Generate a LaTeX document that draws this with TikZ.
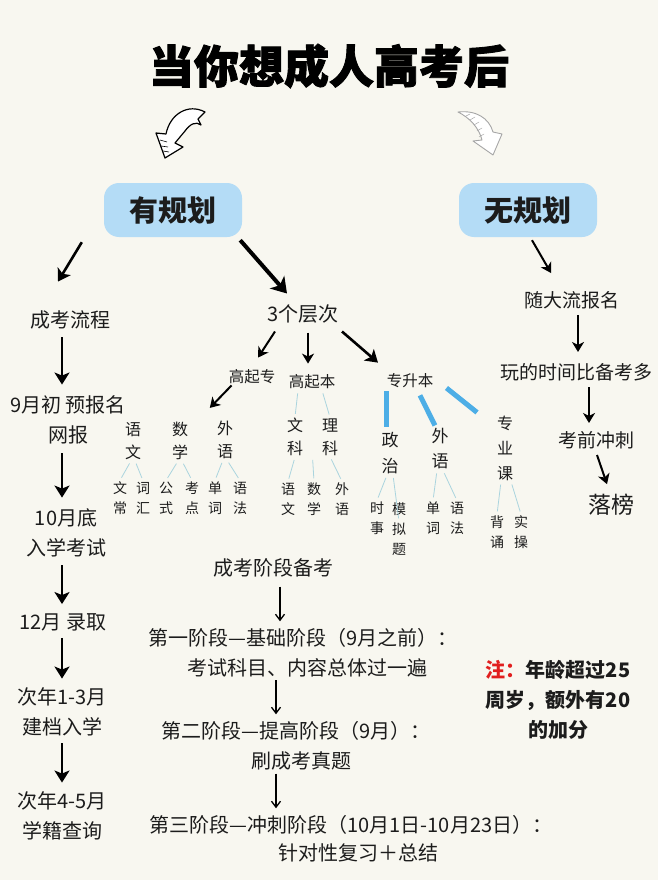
\documentclass[tikz,border=0pt]{standalone}
\usepackage{fontspec}
\setmainfont{Noto Sans CJK SC}
\newfontfamily\titlefont[BoldFeatures={FakeBold=2}]{Noto Sans CJK SC}
\usetikzlibrary{arrows.meta,calc}
\definecolor{bg}{RGB}{248,247,240}
\definecolor{ink}{RGB}{28,28,28}
\definecolor{boxblue}{RGB}{180,220,246}
\definecolor{leafline}{RGB}{170,212,222}
\definecolor{thick}{RGB}{77,174,230}
\definecolor{notered}{RGB}{225,30,30}
\begin{document}
\begin{tikzpicture}[x=1pt,y=-1pt,
  txt/.style={inner sep=1pt,text=ink,align=center,font=\fontsize{20}{30}\selectfont},
  rtxt/.style={inner sep=1pt,text=ink,align=center,font=\fontsize{19}{30}\selectfont},
  small/.style={inner sep=1pt,text=ink,align=center,font=\fontsize{15.5}{20}\selectfont},
  mid/.style={inner sep=1pt,text=ink,align=center,font=\fontsize{16}{23}\selectfont},
  leaf/.style={inner sep=1pt,text=ink,align=center,font=\fontsize{14}{20}\selectfont},
  planbox/.style={fill=boxblue,rounded corners=15pt,minimum width=138pt,minimum height=54pt,text=ink,font=\bfseries\fontsize{29}{30}\selectfont},
  bigarr/.style={draw=black,line width=2.6pt,-{Stealth[length=12pt,width=15pt,inset=3pt]}},
  hugearr/.style={draw=black,line width=4pt,-{Stealth[length=15pt,width=19pt,inset=4pt]}},
  medarr/.style={draw=black,line width=2pt,-{Stealth[length=10pt,width=12pt,inset=3pt]}},
  thinarr/.style={draw=black,line width=1.3pt,-{Straight Barb[length=6pt,width=9pt]}},
  leafln/.style={draw=leafline,line width=0.8pt,shorten >=3pt,shorten <=3pt},
  blueln/.style={draw=thick,line width=5pt},
]
\useasboundingbox (0,0) rectangle (658,880);
\fill[bg] (0,0) rectangle (658,880);

% title
\node[inner sep=0pt,text=black,font=\titlefont\bfseries\fontsize{45}{50}\selectfont] (title) at (329,66) {当你想成人高考后};

% curly arrows
\draw[black,line width=1.2pt,fill=white,line join=round]
  (205,112) .. controls (188,103) and (170,114) .. (166,134) -- (156,133) -- (165,158) -- (183,147)
  -- (175,143) -- (185,131) .. controls (190,124) and (196,121) .. (201,125) -- (198,119) -- cycle;
\draw[black,line width=0.6pt] (160,140) -- (167,142) (161,146) -- (168,147) (163,151) -- (169,152);
\draw[gray!70,line width=0.9pt,fill=white,line join=round]
  (458,112) .. controls (476,110) and (489,118) .. (493,132) -- (502,134) -- (493,155) -- (473,141)
  -- (482,140) .. controls (479,128) and (470,118) .. (458,112) -- cycle;
\draw[gray!70,line width=0.5pt] (466,116) -- (470,114) (470,120) -- (475,117) (474,125) -- (479,122) (477,131) -- (482,128) (479,137) -- (484,134);

% plan boxes
\node[planbox] (yes) at (173,210) {有规划};
\node[planbox] (no) at (528,210) {无规划};

% left column
\node[txt] (l1) at (70,320) {成考流程};
\node[txt] (l2) at (68,420) {9月初 预报名\\网报};
\node[txt] (l3) at (66,533) {10月底\\入学考试};
\node[txt] (l4) at (63,622) {12月 录取};
\node[txt] (l5) at (62,712) {次年1-3月\\建档入学};
\node[txt] (l6) at (62,816) {次年4-5月\\学籍查询};

\draw[bigarr] ([xshift=-22pt,yshift=-5pt]yes.south west) -- ([xshift=-12pt,yshift=28pt]l1.north);
\draw[bigarr] ([xshift=-8pt,yshift=-7pt]l1.south) -- ([xshift=-6pt,yshift=10pt]l2.north);
\draw[bigarr] ([xshift=-6pt,yshift=-8pt]l2.south) -- ([xshift=-4pt,yshift=10pt]l3.north);
\draw[bigarr] ([xshift=-4pt,yshift=-7pt]l3.south) -- ([xshift=-1pt,yshift=8pt]l4.north);
\draw[bigarr] ([xshift=-1pt,yshift=-6pt]l4.south) -- ([yshift=8pt]l5.north);
\draw[bigarr] ([yshift=-6pt]l5.south) -- ([yshift=8pt]l6.north);

% middle tree
\node[txt] (lv) at (303,314) {3个层次};
\draw[hugearr] ([xshift=-2pt,yshift=-3pt]yes.south east) -- ([xshift=-16pt,yshift=10pt]lv.north);

\node[small] (gqz) at (252,377) {高起专};
\node[small] (gqb) at (312,382) {高起本};
\node[small] (zsb) at (410,381) {专升本};
\draw[medarr] ([xshift=-28pt,yshift=-7pt]lv.south) -- ([xshift=6pt,yshift=11pt]gqz.north);
\draw[medarr] ([xshift=5pt,yshift=-8pt]lv.south) -- ([xshift=-4pt,yshift=10pt]gqb.north);
\draw[bigarr] ([xshift=39pt,yshift=-7pt]lv.south) -- ([xshift=-32pt,yshift=10pt]zsb.north);

% gaoqizhuan children
\node[mid] (v1) at (133,441) {语\\文};
\node[mid] (v2) at (180,441) {数\\学};
\node[mid] (v3) at (225,440) {外\\语};
\draw[medarr] ([xshift=4pt,yshift=0pt]gqz.south west) -- ([xshift=-6pt,yshift=12pt]v3.north west);
\node[leaf] (a1) at (120,498) {文\\常};
\node[leaf] (a2) at (143,498) {词\\汇};
\node[leaf] (a3) at (166,498) {公\\式};
\node[leaf] (a4) at (192,498) {考\\点};
\node[leaf] (a5) at (215,498) {单\\词};
\node[leaf] (a6) at (240,498) {语\\法};
\draw[leafln] ([xshift=-2pt]v1.south) -- (a1.north);
\draw[leafln] ([xshift=2pt]v1.south) -- (a2.north);
\draw[leafln] ([xshift=-2pt]v2.south) -- (a3.north);
\draw[leafln] ([xshift=2pt]v2.south) -- (a4.north);
\draw[leafln] ([xshift=-2pt]v3.south) -- (a5.north);
\draw[leafln] ([xshift=2pt]v3.south) -- (a6.north);

% gaoqiben children
\node[mid] (wk) at (295,437) {文\\科};
\node[mid] (lk) at (330,437) {理\\科};
\draw[leafln] ([xshift=-14pt]gqb.south) -- (wk.north);
\draw[leafln] ([xshift=10pt]gqb.south) -- (lk.north);
\node[leaf] (b1) at (288,499) {语\\文};
\node[leaf] (b2) at (314,499) {数\\学};
\node[leaf] (b3) at (342,499) {外\\语};
\draw[leafln] (wk.south) -- (b1.north);
\draw[leafln] ($(wk.south)!0.5!(lk.south)$) -- (b2.north);
\draw[leafln] (lk.south) -- (b3.north);

% zhuanshengben children
\node[inner sep=1pt,text=ink,align=center,font=\fontsize{17}{26}\selectfont] (zz) at (390,453) {政\\治};
\node[inner sep=1pt,text=ink,align=center,font=\fontsize{17}{25}\selectfont] (wy) at (440,449) {外\\语};
\node[inner sep=1pt,text=ink,align=center,font=\fontsize{16}{25}\selectfont] (zyk) at (505,448) {专\\业\\课};
\draw[blueln] ([xshift=-24pt,yshift=-2pt]zsb.south) -- ([xshift=-4pt,yshift=4pt]zz.north);
\draw[blueln] ([xshift=10pt,yshift=-6pt]zsb.south) -- ([xshift=-5pt,yshift=2pt]wy.north);
\draw[blueln] ([xshift=12pt,yshift=-7pt]zsb.east) -- ([xshift=-28pt,yshift=2pt]zyk.north);
\node[leaf] (c1) at (377,518) {时\\事};
\node[leaf] (c2) at (399,529) {模\\拟\\题};
\node[leaf] (c3) at (433,518) {单\\词};
\node[leaf] (c4) at (457,518) {语\\法};
\node[leaf] (c5) at (497,532) {背\\诵};
\node[leaf] (c6) at (521,532) {实\\操};
\draw[leafln] ([xshift=-3pt]zz.south) -- (c1.north);
\draw[leafln] ([xshift=3pt]zz.south) -- ([yshift=-20pt]c2.north);
\draw[leafln] ([xshift=-3pt]wy.south) -- (c3.north);
\draw[leafln] ([xshift=3pt]wy.south) -- (c4.north);
\draw[leafln] ([xshift=-4pt]zyk.south) -- (c5.north);
\draw[leafln] ([xshift=6pt]zyk.south) -- (c6.north);

% stages
\node[txt] (s0) at (273,568) {成考阶段备考};
\node[txt] (s1a) at (303,638) {第一阶段—基础阶段（9月之前）：};
\node[txt] (s1b) at (307,668) {考试科目、内容总体过一遍};
\node[txt] (s2a) at (296,731) {第二阶段—提高阶段（9月）：};
\node[txt] (s2b) at (301,761) {刷成考真题};
\node[txt] (s3a) at (351,825) {第三阶段—冲刺阶段（10月1日-10月23日）：};
\node[txt] (s3b) at (358,853) {针对性复习＋总结};
\draw[thinarr] ([xshift=7pt,yshift=-8pt]s0.south) -- ([xshift=-23pt,yshift=6pt]s1a.north);
\draw[thinarr] ([xshift=-31pt,yshift=-2pt]s1b.south) -- ([xshift=-20pt,yshift=6pt]s2a.north);
\draw[thinarr] ([xshift=-25pt,yshift=-2pt]s2b.south) -- ([xshift=-75pt,yshift=6pt]s3a.north);

% right column
\node[rtxt] (r1) at (572,300) {随大流报名};
\node[rtxt] (r2) at (576,372) {玩的时间比备考多};
\node[rtxt] (r3) at (596,440) {考前冲刺};
\node[inner sep=1pt,text=ink,font=\fontsize{23}{26}\selectfont] (r4) at (611,505) {落榜};
\draw[medarr] ([xshift=4pt,yshift=-3pt]no.south) -- ([xshift=-21pt,yshift=17pt]r1.north);
\draw[medarr] ([xshift=6pt,yshift=-5pt]r1.south) -- ([xshift=2pt,yshift=10pt]r2.north);
\draw[medarr] ([xshift=13pt,yshift=-5pt]r2.south) -- ([xshift=-7pt,yshift=7pt]r3.north);
\draw[medarr] ([xshift=1pt,yshift=-5pt]r3.south) -- ([xshift=-4pt,yshift=9pt]r4.north);

% note
\node[inner sep=1pt,text=ink,align=center,font=\bfseries\fontsize{20}{30}\selectfont] (note) at (558,700)
  {\textcolor{notered}{注：}年龄超过25\\周岁，额外有20\\的加分};
\end{tikzpicture}
\end{document}
